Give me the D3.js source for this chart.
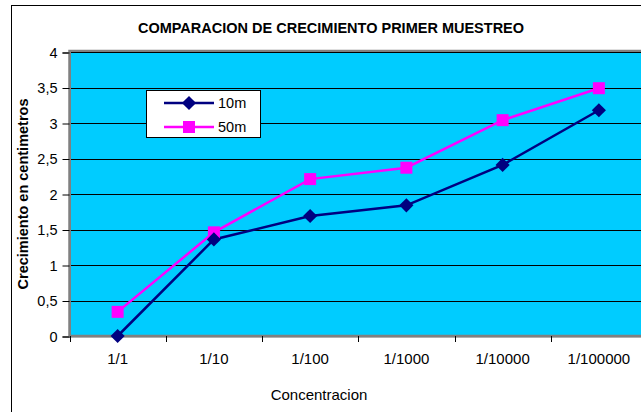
<!DOCTYPE html>
<html><head><meta charset="utf-8">
<script src="https://cdn.jsdelivr.net/npm/d3@7"></script>
<style>html,body{margin:0;padding:0;background:#fff;}svg{display:block;}</style>
</head><body>
<svg id="c" width="641" height="412"></svg>
<script>
const categories = ["1/1","1/10","1/100","1/1000","1/10000","1/100000"];
const series10m = [0.0, 1.36, 1.69, 1.84, 2.41, 3.18];
const series50m = [0.34, 1.46, 2.21, 2.37, 3.04, 3.49];
const yTicks = [0,0.5,1,1.5,2,2.5,3,3.5,4];
const seriesNames = ["10m","50m"];
const colors = ["#000080","#FF00FF"];

const svg = d3.select("#c");
const font = "Arial, 'Liberation Sans', sans-serif";
// chart border
svg.append("rect").attr("x",11.5).attr("y",5.5).attr("width",700).attr("height",420)
  .attr("fill","#fff").attr("stroke","#000").attr("stroke-width",1);

const L=69.5, T=52, B=336, R=647;
const x = d3.scaleBand().domain(categories).range([L,R]).padding(0);
const y = d3.scaleLinear().domain([0,4]).range([B,T]);

svg.append("rect").attr("x",L).attr("y",T-1).attr("width",R-L).attr("height",B-T+1)
  .attr("fill","#00CCFF").attr("stroke","#808080").attr("stroke-width",2.5);

// gridlines
svg.append("g").selectAll("line").data(yTicks.filter(d=>d>0)).join("line")
  .attr("x1",L).attr("x2",R).attr("y1",d=>Math.round(y(d))+0.5).attr("y2",d=>Math.round(y(d))+0.5)
  .attr("stroke","#000").attr("stroke-width",1);

// y axis
const yAxis = d3.axisLeft(y).tickValues(yTicks).tickSize(7).tickPadding(5)
  .tickFormat(d=>String(d).replace(".",","));
const gy = svg.append("g").attr("transform",`translate(${L},0.5)`).call(yAxis);
gy.select(".domain").attr("stroke","#808080").attr("stroke-width",2);
gy.selectAll("text").attr("font-family",font).attr("font-size",14.5).attr("fill","#000");

// x axis
const xAxis = d3.axisBottom(x).tickSize(0).tickPadding(17);
const gx = svg.append("g").attr("transform",`translate(0,${B})`).call(xAxis);
gx.select(".domain").attr("stroke","#808080").attr("stroke-width",2);
gx.selectAll("text").attr("font-family",font).attr("font-size",15).attr("fill","#000");
// x ticks at band boundaries
svg.append("g").selectAll("line").data(categories).join("line")
  .attr("x1",d=>Math.round(x(d))+0.5).attr("x2",d=>Math.round(x(d))+0.5)
  .attr("y1",B).attr("y2",B+6).attr("stroke","#000");

const line = d3.line().x((d,i)=>x(categories[i])+x.bandwidth()/2).y(d=>y(d));
const allSeries=[series10m,series50m];
[1,0].forEach(si=>{
  svg.append("path").datum(allSeries[si]).attr("d",line).attr("fill","none")
    .attr("stroke",colors[si]).attr("stroke-width",2.5);
});
function marker(g,si,cx,cy){
  if(si===0){
    g.append("path").attr("d",d3.symbol(d3.symbolSquare,100)())
     .attr("transform",`translate(${cx},${cy}) rotate(45)`).attr("fill",colors[0]);
  } else {
    g.append("rect").attr("x",cx-6).attr("y",cy-6).attr("width",12).attr("height",12).attr("fill",colors[1]);
  }
}
[1,0].forEach(si=>{
  const g=svg.append("g");
  allSeries[si].forEach((v,i)=>marker(g,si,x(categories[i])+x.bandwidth()/2,y(v)));
});

// legend
const lg = svg.append("g");
lg.append("rect").attr("x",146.5).attr("y",90.5).attr("width",114).attr("height",47)
  .attr("fill","#fff").attr("stroke","#000");
seriesNames.forEach((n,i)=>{
  const yy = 103 + i*24;
  lg.append("line").attr("x1",164).attr("x2",214).attr("y1",yy).attr("y2",yy)
    .attr("stroke",colors[i]).attr("stroke-width",2.5);
  marker(lg,i,189,yy);
  lg.append("text").attr("x",218).attr("y",yy+5).text(n)
    .attr("font-family",font).attr("font-size",14.5).attr("fill","#000");
});

// titles
svg.append("text").attr("x",331).attr("y",33).attr("text-anchor","middle")
  .attr("font-family",font).attr("font-weight","bold").attr("font-size",14.5)
  .text("COMPARACION DE CRECIMIENTO PRIMER MUESTREO");
svg.append("text").attr("transform",`translate(28,194) rotate(-90)`).attr("text-anchor","middle")
  .attr("font-family",font).attr("font-weight","bold").attr("font-size",14.5)
  .text("Crecimiento en centimetros");
svg.append("text").attr("x",319).attr("y",400).attr("text-anchor","middle")
  .attr("font-family",font).attr("font-size",15).text("Concentracion");
</script>
</body></html>
